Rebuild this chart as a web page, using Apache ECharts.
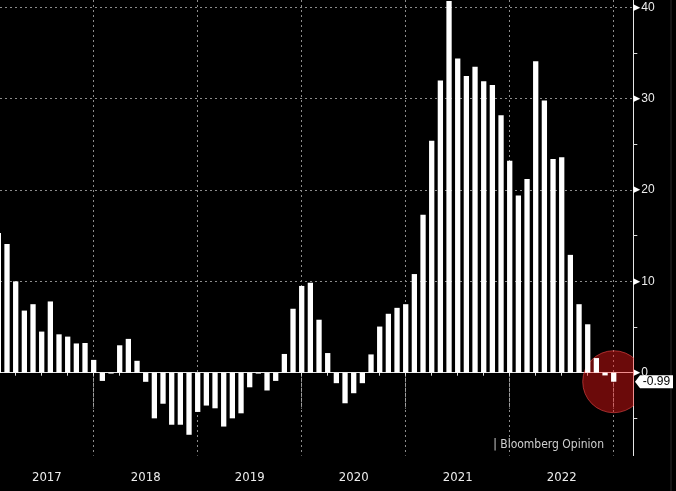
<!DOCTYPE html>
<html><head><meta charset="utf-8">
<script src="https://cdn.jsdelivr.net/npm/echarts@6/dist/echarts.min.js"></script>
<style>html,body{margin:0;padding:0;background:#000}#c{width:676px;height:491px}</style>
</head><body><div id="c"></div>
<script>
const years = ['2017', '2018', '2019', '2020', '2021', '2022'];
const v2017 = [15.3, 14.1, 10.0, 6.8, 7.5, 4.5, 7.8, 4.2, 3.95, 3.2, 3.25, 1.4];
const v2018 = [-0.9, -0.1, 3.0, 3.7, 1.3, -1.0, -5.0, -3.4, -5.7, -5.7, -6.8, -4.3];
const v2019 = [-3.6, -3.9, -5.9, -5.0, -4.45, -1.6, -0.1, -1.95, -0.9, 2.05, 7.0, 9.5];
const v2020 = [9.85, 5.8, 2.15, -1.15, -3.35, -2.25, -1.15, 2.0, 5.05, 6.45, 7.1, 7.5];
const v2021 = [10.8, 17.3, 25.4, 32.0, 40.7, 34.4, 32.5, 33.5, 31.9, 31.5, 28.2, 23.2];
const v2022 = [19.4, 21.2, 34.1, 29.8, 23.4, 23.6, 12.9, 7.5, 5.3, 1.6, -0.3, -0.99];
const yLabels = [0, 10, 20, 30, 40];
const yMinorTicks = [-5, 0, 5, 10, 15, 20, 25, 30, 35, 40];
const sourceText = '| Bloomberg Opinion';

const X_MIN = 1.19, X_MAX = 74.26, Y_MIN = -9.08, Y_MAX = 40.81;

const values = [].concat(v2017, v2018, v2019, v2020, v2021, v2022);
// x = months since 1 Jan 2017; each monthly value is dated at its month end
const pairs = values.map((v, i) => [i + 1, v]);
const lastX = values.length;
const lastV = values[values.length - 1];
const yearEnds = years.map((y, k) => 12 * (k + 1));
// year label centred on the visible part of its year
const yearMids = years.map((y, k) => (Math.max(12 * k, X_MIN) + Math.min(12 * (k + 1), X_MAX)) / 2);
const quarters = [];
for (let q = 3; q <= 12 * years.length; q += 3) quarters.push(q);

const gridLine = { color: '#8c8c8c', width: 1, type: [2, 3] };
const chart = echarts.init(document.getElementById('c'), null, { renderer: 'canvas' });
chart.setOption({
  backgroundColor: '#000',
  animation: false,
  title: {
    text: sourceText, right: 72, top: 439, padding: 0,
    textStyle: { color: '#cfcfcf', fontSize: 12, fontWeight: 'normal', fontFamily: 'Liberation Sans Narrow, DejaVu Sans Condensed, sans-serif' }
  },
  grid: { left: 0, right: 42.7, top: 0, bottom: 35.4, containLabel: false },
  xAxis: [
    {
      type: 'value', min: X_MIN, max: X_MAX, position: 'bottom',
      axisLine: { show: true, lineStyle: { color: '#e6e6e6', width: 1 } },
      axisTick: { show: true, customValues: yearEnds, length: 36, lineStyle: { color: '#a0a0a0', width: 1, type: [3, 2] } },
      axisLabel: {
        customValues: yearMids,
        formatter: v => years[Math.floor(v / 12)] || '',
        margin: 16, color: '#ececec', fontSize: 13,
        fontFamily: 'Liberation Sans Narrow, DejaVu Sans Condensed, sans-serif'
      },
      splitLine: { show: true, showMinLine: true, showMaxLine: true, lineStyle: gridLine }
    },
    {
      type: 'value', min: X_MIN, max: X_MAX, position: 'bottom',
      axisLine: { show: false },
      axisTick: { show: true, customValues: quarters, length: 3, lineStyle: { color: '#dddddd' } },
      axisLabel: { show: false },
      splitLine: { show: false }
    }
  ],
  yAxis: [
    {
      type: 'value', position: 'right', min: Y_MIN, max: Y_MAX,
      axisLine: { show: true, lineStyle: { color: '#e6e6e6', width: 1 } },
      axisTick: { show: true, customValues: yMinorTicks, length: 4, lineStyle: { color: '#dddddd' } },
      axisLabel: {
        customValues: yLabels, margin: 0,
        formatter: v => '{t|▶}{n|' + v + '}',
        rich: {
          t: { fontSize: 9, color: '#ffffff', fontFamily: 'DejaVu Sans', padding: [0, 1, 0, 0] },
          n: { fontSize: 12, color: '#ececec', fontFamily: 'Liberation Sans, Arial, sans-serif' }
        }
      },
      splitLine: { show: false }
    },
    {
      type: 'value', position: 'left', min: Y_MIN, max: Y_MAX,
      axisLine: { show: false },
      axisTick: { show: false, customValues: yLabels },
      axisLabel: { show: false, customValues: yLabels },
      splitLine: { show: true, lineStyle: gridLine }
    }
  ],
  graphic: [
    { type: 'line', shape: { x1: 671, y1: 0, x2: 671, y2: 491 }, style: { stroke: '#2a2a2a', lineWidth: 1 }, silent: true }
  ],
  series: [
    {
      type: 'bar', xAxisIndex: 0, yAxisIndex: 0, data: pairs, barWidth: 5.3,
      itemStyle: { color: '#ffffff' },
      markPoint: {
        silent: true,
        symbol: 'path://M0,6.5 L5,0 L38,0 L38,13 L5,13 Z',
        symbolSize: [38, 13], symbolOffset: [20.7, 0], symbolKeepAspect: false,
        itemStyle: { color: '#ffffff' },
        label: { show: true, position: 'inside', offset: [2.5, 0], color: '#000', fontSize: 12,
          fontFamily: 'Liberation Sans, Arial, sans-serif', formatter: () => lastV.toFixed(2) },
        data: [{ coord: [X_MAX, lastV], value: lastV }]
      }
    },
    {
      type: 'custom', xAxisIndex: 0, yAxisIndex: 0, clip: true, silent: true,
      data: [[lastX, lastV]],
      renderItem: (params, api) => {
        const p = api.coord([api.value(0), api.value(1)]);
        return {
          type: 'circle', shape: { cx: p[0], cy: p[1], r: 31 },
          style: { fill: 'rgba(255,25,25,0.42)', stroke: 'rgba(255,80,80,0.55)', lineWidth: 1 }
        };
      }
    }
  ]
});
</script></body></html>
